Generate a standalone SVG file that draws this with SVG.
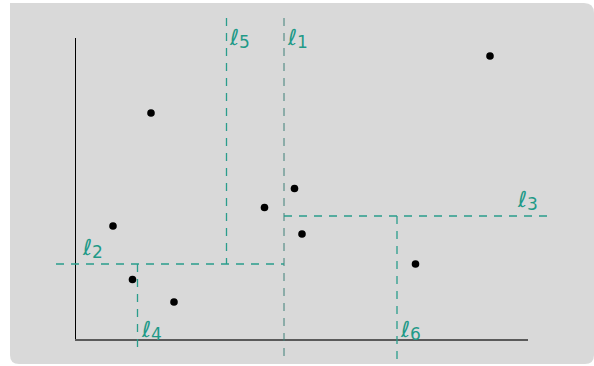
<svg xmlns="http://www.w3.org/2000/svg" width="594" height="366" viewBox="0 0 594 366">
<style>
.cut{stroke:#2a9d8c;stroke-width:1.3;stroke-dasharray:8 7;fill:none}
.cut1{stroke:#3f8078;stroke-width:1;stroke-dasharray:8 7;fill:none}
.pt{fill:#000}
.lbl{font-family:"DejaVu Sans",sans-serif;font-size:22px;fill:#1f9a88;font-style:italic}
.sub{font-family:"DejaVu Sans",sans-serif;font-size:17px;fill:#1f9a88;font-style:normal}
</style>
<rect width="594" height="366" fill="#ffffff"/>
<path d="M10 3 H584 Q594 3 594 13 V355 Q594 364 585 364 H19 Q10 364 10 355 Z" fill="#d9d9d9"/>
<g id="axes">
<line x1="75.5" y1="38" x2="75.5" y2="340.5" stroke="#000" stroke-width="1"/>
<line x1="75" y1="340" x2="528" y2="340" stroke="#5a5a5a" stroke-width="1.8"/>
</g>
<g id="connectors">
<line id="l1" class="cut1" x1="284" y1="18" x2="284" y2="360"/>
<line id="l5" class="cut" x1="226.5" y1="18" x2="226.5" y2="264"/>
<line id="l2" class="cut" x1="56" y1="264" x2="284" y2="264"/>
<line id="l4" class="cut" x1="137.5" y1="264" x2="137.5" y2="352"/>
<line id="l3" class="cut" x1="284" y1="216" x2="548" y2="216"/>
<line id="l6" class="cut" x1="397" y1="216" x2="397" y2="360"/>
</g>
<g id="points">
<circle class="pt" cx="151" cy="113" r="3.8"/>
<circle class="pt" cx="490" cy="56" r="3.8"/>
<circle class="pt" cx="294.5" cy="188.5" r="3.8"/>
<circle class="pt" cx="264.5" cy="207.5" r="3.8"/>
<circle class="pt" cx="302" cy="234" r="3.8"/>
<circle class="pt" cx="113" cy="226" r="3.8"/>
<circle class="pt" cx="415.5" cy="264" r="3.8"/>
<circle class="pt" cx="132.5" cy="279.5" r="3.8"/>
<circle class="pt" cx="174" cy="302" r="3.8"/>
</g>
<g id="labels">
<text id="t5" class="lbl" x="230" y="45">ℓ<tspan class="sub" dy="3">5</tspan></text>
<text id="t1" class="lbl" x="288" y="45">ℓ<tspan class="sub" dy="3">1</tspan></text>
<text id="t2" class="lbl" x="83" y="255">ℓ<tspan class="sub" dy="3">2</tspan></text>
<text id="t3" class="lbl" x="518" y="207">ℓ<tspan class="sub" dy="3">3</tspan></text>
<text id="t4" class="lbl" x="142" y="337">ℓ<tspan class="sub" dy="3">4</tspan></text>
<text id="t6" class="lbl" x="401" y="337">ℓ<tspan class="sub" dy="3">6</tspan></text>
</g>
</svg>
